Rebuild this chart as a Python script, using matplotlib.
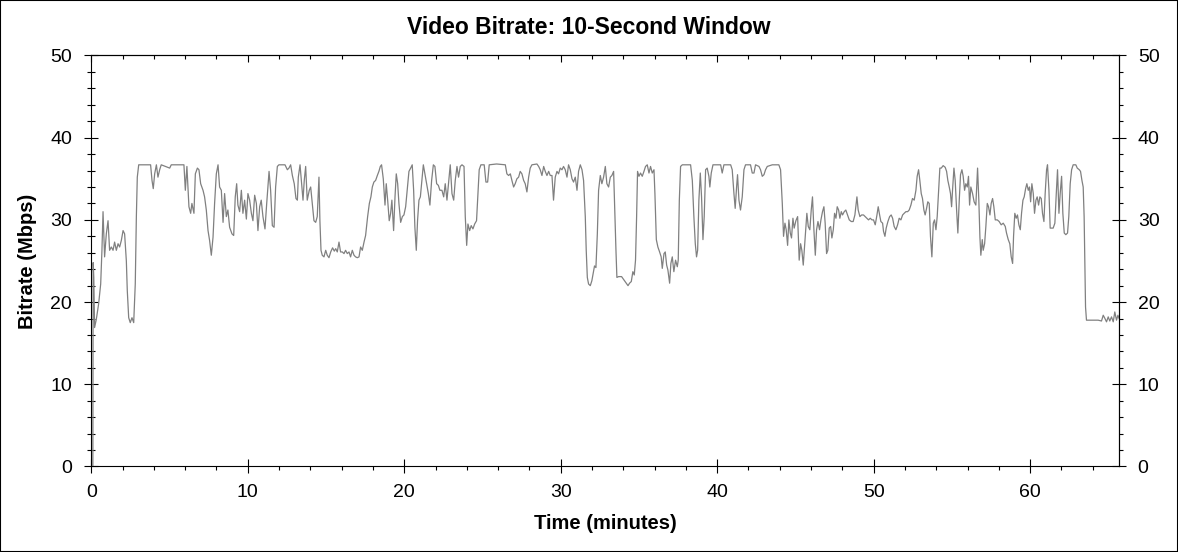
import numpy as np
import matplotlib
matplotlib.use("Agg")
import matplotlib.pyplot as plt
from matplotlib.ticker import MultipleLocator
from matplotlib.patches import Rectangle

plt.rcParams['font.family'] = ['Liberation Sans', 'DejaVu Sans']

# ---- DATA (minutes, Mbps) ----
seg_00_11 = [
    (0.10, 0.0), (0.12, 24.8), (0.16, 23.0), (0.21, 16.9), (0.32, 17.9), (0.47, 19.8),
    (0.60, 22.2), (0.68, 26.3), (0.75, 31.0), (0.85, 25.5), (0.96, 28.3), (1.07, 29.9),
    (1.17, 26.3), (1.28, 26.7), (1.39, 26.3), (1.49, 27.3), (1.60, 26.3), (1.71, 27.1),
    (1.81, 26.7), (1.92, 27.5), (2.03, 28.7), (2.13, 28.3), (2.24, 25.0), (2.30, 21.4),
    (2.39, 18.1), (2.49, 17.5), (2.60, 18.1), (2.71, 17.5), (2.81, 22.2), (2.88, 30.4),
    (2.94, 35.2), (3.03, 36.7), (3.79, 36.7), (3.88, 34.8), (3.96, 33.8), (4.05, 35.6),
    (4.16, 36.7), (4.26, 35.2), (4.37, 36.1), (4.47, 36.7), (5.01, 36.3), (5.11, 36.7),
    (5.92, 36.7), (6.01, 33.6), (6.11, 36.5), (6.24, 31.6), (6.35, 30.8), (6.43, 32.0),
    (6.56, 30.8), (6.65, 35.6), (6.78, 36.3), (6.88, 36.1), (6.99, 34.4), (7.14, 33.6),
    (7.24, 32.8), (7.35, 31.2), (7.46, 28.7), (7.56, 27.5), (7.67, 25.7), (7.78, 27.9),
    (7.88, 32.0), (7.99, 35.6), (8.10, 36.7), (8.20, 34.0), (8.31, 33.6), (8.42, 29.7),
    (8.52, 33.2), (8.63, 30.4), (8.73, 31.2), (8.84, 29.1), (8.99, 28.3), (9.10, 28.1),
    (9.20, 32.8), (9.29, 34.4), (9.37, 31.8), (9.48, 31.0), (9.59, 33.6), (9.69, 30.8),
    (9.80, 32.4), (9.91, 30.1), (10.01, 33.2), (10.12, 32.4), (10.23, 30.8), (10.33, 29.9),
    (10.44, 33.0), (10.55, 32.0), (10.65, 28.7), (10.76, 31.6), (10.86, 32.4), (10.97, 30.4),
]

seg_11_22 = [
    (11.10, 28.9), (11.21, 32.0), (11.36, 35.9), (11.46, 33.6), (11.57, 29.3), (11.68, 29.1),
    (11.78, 34.0), (11.89, 36.5), (11.99, 36.7), (12.38, 36.7), (12.53, 36.1), (12.63, 36.3),
    (12.74, 36.7), (12.85, 35.4), (12.97, 34.4), (13.08, 32.6), (13.17, 32.4), (13.23, 35.2),
    (13.34, 36.7), (13.44, 34.4), (13.53, 32.4), (13.61, 34.8), (13.70, 36.5), (13.80, 32.4),
    (13.93, 33.6), (14.02, 34.0), (14.12, 32.0), (14.23, 29.9), (14.34, 29.7), (14.44, 30.4),
    (14.55, 35.2), (14.61, 29.9), (14.68, 26.3), (14.76, 25.7), (14.87, 25.5), (14.98, 26.3),
    (15.08, 25.7), (15.19, 25.4), (15.30, 26.1), (15.42, 26.6), (15.53, 26.2), (15.62, 26.5),
    (15.72, 26.1), (15.83, 27.3), (15.93, 26.1), (16.04, 26.1), (16.15, 25.9), (16.25, 26.3),
    (16.36, 25.9), (16.47, 26.1), (16.57, 25.5), (16.68, 26.3), (16.79, 25.7), (16.89, 25.5),
    (17.00, 25.4), (17.11, 25.5), (17.21, 26.7), (17.32, 26.3), (17.43, 27.3), (17.53, 28.1),
    (17.66, 30.4), (17.77, 32.0), (17.87, 32.8), (17.96, 34.0), (18.06, 34.6), (18.17, 34.8),
    (18.28, 35.4), (18.38, 35.9), (18.47, 36.5), (18.55, 36.7), (18.66, 35.0), (18.77, 31.8),
    (18.85, 34.4), (18.94, 32.4), (19.04, 29.9), (19.13, 30.8), (19.21, 32.4), (19.32, 28.7),
    (19.41, 32.8), (19.49, 35.6), (19.58, 34.4), (19.66, 32.0), (19.77, 29.7), (19.88, 30.4),
    (19.98, 30.6), (20.09, 31.6), (20.19, 33.6), (20.30, 35.9), (20.41, 36.3), (20.51, 36.7),
    (20.60, 33.6), (20.68, 29.1), (20.77, 26.3), (20.85, 29.9), (20.94, 32.4), (21.03, 32.8),
    (21.11, 34.4), (21.22, 36.7), (21.32, 35.6), (21.43, 34.4), (21.54, 33.2), (21.64, 31.8),
    (21.75, 34.8), (21.86, 36.7), (21.96, 36.5), (22.07, 34.4), (22.18, 34.2), (22.28, 33.6),
]

seg_22_34 = [
    (22.41, 33.6), (22.52, 32.8), (22.62, 34.4), (22.73, 32.4), (22.84, 34.6), (22.94, 36.7),
    (23.05, 33.2), (23.16, 32.4), (23.26, 34.8), (23.37, 36.5), (23.47, 35.2), (23.58, 36.5),
    (23.69, 36.7), (23.82, 36.5), (23.90, 30.4), (23.99, 26.9), (24.07, 29.5), (24.18, 28.7),
    (24.28, 29.3), (24.39, 28.9), (24.50, 29.5), (24.62, 29.9), (24.71, 33.2), (24.79, 36.1),
    (24.90, 36.7), (25.11, 36.7), (25.22, 34.6), (25.33, 34.6), (25.43, 36.7), (25.90, 36.8),
    (26.46, 36.7), (26.56, 35.6), (26.67, 35.4), (26.78, 35.6), (26.88, 34.8), (26.99, 34.0),
    (27.09, 34.4), (27.20, 35.0), (27.31, 35.2), (27.41, 35.9), (27.52, 35.6), (27.63, 34.8),
    (27.73, 34.4), (27.84, 33.4), (27.95, 35.2), (28.05, 36.3), (28.16, 36.7), (28.48, 36.8),
    (28.59, 36.5), (28.69, 36.1), (28.80, 35.4), (28.91, 36.5), (29.01, 35.9), (29.12, 35.4),
    (29.23, 35.9), (29.33, 35.4), (29.44, 35.4), (29.54, 32.4), (29.65, 35.2), (29.76, 35.9),
    (29.86, 35.6), (29.97, 36.3), (30.08, 36.1), (30.18, 36.5), (30.29, 36.1), (30.40, 35.2),
    (30.50, 36.7), (30.61, 36.1), (30.72, 35.0), (30.82, 34.6), (30.93, 35.2), (31.04, 33.6),
    (31.14, 35.9), (31.25, 36.7), (31.36, 36.1), (31.46, 34.8), (31.57, 30.4), (31.63, 26.3),
    (31.70, 23.0), (31.78, 22.2), (31.89, 22.0), (31.99, 22.6), (32.10, 23.8), (32.16, 24.4),
    (32.25, 24.2), (32.34, 28.3), (32.42, 33.6), (32.53, 35.4), (32.63, 34.4), (32.74, 35.2),
    (32.85, 36.5), (32.95, 34.4), (33.06, 34.0), (33.17, 35.2), (33.27, 35.4), (33.38, 35.9),
    (33.44, 32.0), (33.53, 26.3), (33.59, 23.0), (33.70, 23.1),
]

seg_34_45 = [
    (33.89, 23.1), (34.04, 22.7), (34.19, 22.3), (34.30, 22.0), (34.40, 22.3), (34.51, 22.5),
    (34.61, 23.7), (34.70, 23.3), (34.78, 25.1), (34.85, 30.4), (34.91, 35.9), (35.00, 35.3),
    (35.10, 35.7), (35.21, 35.3), (35.32, 35.9), (35.42, 36.5), (35.53, 36.7), (35.64, 35.7),
    (35.74, 36.5), (35.85, 35.7), (35.96, 36.1), (36.02, 33.2), (36.11, 27.6), (36.21, 26.7),
    (36.32, 26.1), (36.42, 25.5), (36.49, 24.1), (36.60, 25.9), (36.68, 26.1), (36.77, 24.5),
    (36.85, 23.9), (36.96, 22.3), (37.04, 24.7), (37.13, 25.5), (37.23, 23.7), (37.34, 25.1),
    (37.45, 24.3), (37.51, 25.1), (37.58, 32.4), (37.66, 36.5), (37.77, 36.7), (38.30, 36.7),
    (38.41, 34.8), (38.51, 30.4), (38.60, 27.1), (38.68, 25.5), (38.75, 26.3), (38.83, 32.4),
    (38.92, 35.7), (39.00, 32.8), (39.09, 27.6), (39.17, 30.4), (39.26, 36.1), (39.36, 36.3),
    (39.47, 35.3), (39.53, 34.0), (39.62, 35.7), (39.73, 36.7), (40.22, 36.7), (40.32, 35.7),
    (40.43, 36.7), (40.86, 36.7), (40.96, 36.1), (41.07, 33.2), (41.15, 31.4), (41.24, 34.0),
    (41.30, 35.5), (41.39, 32.4), (41.49, 31.2), (41.60, 32.8), (41.71, 36.1), (41.81, 36.7),
    (42.13, 36.7), (42.24, 35.7), (42.35, 35.7), (42.45, 36.7), (42.67, 36.5), (42.77, 36.1),
    (42.88, 35.3), (42.99, 35.5), (43.09, 36.1), (43.20, 36.5), (43.52, 36.7), (43.73, 36.7),
    (43.94, 36.7), (44.05, 36.1), (44.16, 32.0), (44.24, 28.0), (44.33, 29.6), (44.41, 28.8),
    (44.50, 26.9), (44.58, 30.0), (44.67, 28.4), (44.75, 27.8), (44.84, 30.2), (44.92, 29.0),
]

seg_45_57 = [
    (45.03, 29.9), (45.14, 30.4), (45.24, 25.1), (45.33, 27.1), (45.41, 26.3), (45.50, 24.5),
    (45.58, 26.7), (45.67, 29.2), (45.73, 30.8), (45.82, 29.2), (45.92, 28.8), (46.01, 31.2),
    (46.09, 32.8), (46.18, 28.8), (46.27, 25.7), (46.35, 28.8), (46.44, 29.8), (46.54, 28.8),
    (46.63, 30.0), (46.73, 31.0), (46.82, 31.6), (46.90, 29.6), (46.99, 25.9), (47.07, 26.3),
    (47.16, 29.0), (47.25, 29.2), (47.33, 27.8), (47.42, 28.8), (47.50, 30.8), (47.59, 30.2),
    (47.67, 31.6), (47.76, 31.2), (47.84, 30.2), (47.93, 31.0), (48.01, 30.6), (48.12, 31.0),
    (48.22, 31.2), (48.33, 30.6), (48.44, 30.0), (48.57, 29.8), (48.69, 29.8), (48.80, 30.6),
    (48.93, 32.8), (49.01, 31.2), (49.12, 30.4), (49.23, 30.6), (49.35, 30.6), (49.46, 30.4),
    (49.57, 30.2), (49.67, 30.0), (49.78, 30.2), (49.89, 30.0), (49.99, 30.0), (50.10, 29.4),
    (50.21, 30.6), (50.29, 31.6), (50.38, 30.6), (50.46, 29.8), (50.57, 29.6), (50.63, 28.6),
    (50.72, 28.0), (50.80, 29.0), (50.91, 29.8), (51.02, 30.4), (51.12, 30.6), (51.21, 30.2),
    (51.31, 29.2), (51.42, 28.8), (51.53, 29.4), (51.63, 30.2), (51.74, 30.0), (51.85, 30.6),
    (51.95, 30.8), (52.06, 31.0), (52.17, 31.0), (52.27, 31.2), (52.38, 31.8), (52.48, 32.6),
    (52.59, 32.4), (52.70, 33.6), (52.78, 35.3), (52.87, 36.1), (52.95, 34.8), (53.04, 33.2),
    (53.12, 32.6), (53.21, 31.2), (53.29, 30.6), (53.38, 31.4), (53.46, 32.2), (53.55, 32.0),
    (53.63, 28.0), (53.72, 25.5), (53.81, 29.6), (53.89, 30.0), (53.98, 28.8), (54.06, 30.4),
    (54.15, 33.6), (54.23, 36.3), (54.32, 36.3), (54.44, 36.6), (54.57, 36.4), (54.66, 35.9),
    (54.74, 34.8), (54.83, 34.0), (54.91, 33.2), (54.98, 31.6), (55.04, 33.6), (55.13, 36.3),
    (55.21, 34.8), (55.30, 31.2), (55.38, 28.4), (55.47, 32.4), (55.55, 35.5), (55.64, 36.1),
    (55.72, 35.3), (55.81, 33.6), (55.89, 34.4), (55.98, 34.0), (56.06, 35.3), (56.13, 31.8),
    (56.21, 34.0), (56.32, 33.2), (56.42, 32.2), (56.53, 31.8),
]

seg_57_66 = [
    (56.64, 36.3), (56.72, 32.4), (56.79, 27.9), (56.85, 25.7), (56.94, 27.6), (57.00, 26.3),
    (57.09, 27.1), (57.17, 29.2), (57.26, 32.0), (57.34, 31.6), (57.43, 30.6), (57.51, 32.0),
    (57.60, 32.6), (57.68, 31.6), (57.77, 30.0), (57.90, 30.0), (58.02, 29.8), (58.15, 29.4),
    (58.28, 29.6), (58.41, 29.2), (58.49, 28.4), (58.60, 27.6), (58.70, 27.1), (58.79, 25.5),
    (58.88, 24.7), (58.94, 28.0), (59.02, 30.8), (59.11, 30.2), (59.19, 30.6), (59.28, 29.4),
    (59.37, 28.8), (59.45, 30.8), (59.54, 32.4), (59.62, 32.8), (59.71, 33.8), (59.79, 34.4),
    (59.88, 33.6), (59.96, 34.0), (60.03, 32.2), (60.11, 34.4), (60.20, 33.2), (60.28, 30.8),
    (60.37, 32.4), (60.45, 32.8), (60.54, 31.8), (60.62, 32.8), (60.71, 32.6), (60.79, 30.8),
    (60.88, 29.8), (60.96, 33.2), (61.05, 36.1), (61.11, 36.7), (61.20, 33.6), (61.28, 29.0),
    (61.37, 29.0), (61.47, 29.0), (61.58, 29.6), (61.67, 33.2), (61.75, 36.1), (61.84, 30.8),
    (61.92, 33.2), (62.01, 35.3), (62.09, 30.8), (62.18, 28.4), (62.28, 28.2), (62.39, 28.4),
    (62.47, 30.4), (62.56, 34.4), (62.65, 36.1), (62.75, 36.7), (62.92, 36.7), (63.01, 36.3),
    (63.14, 36.1), (63.22, 35.9), (63.31, 34.8), (63.39, 34.0), (63.45, 30.4), (63.50, 24.3),
    (63.54, 19.4), (63.60, 17.8), (63.82, 17.8), (64.03, 17.8), (64.35, 17.8), (64.56, 17.7),
    (64.67, 18.4), (64.78, 18.0), (64.88, 17.6), (64.99, 18.2), (65.09, 17.7), (65.20, 18.2),
    (65.31, 17.6), (65.41, 18.8), (65.52, 17.8), (65.61, 18.4), (65.69, 18.0),
]

x_ticks = [0, 10, 20, 30, 40, 50, 60]
y_ticks = [0, 10, 20, 30, 40, 50]

title = "Video Bitrate: 10-Second Window"
x_label = "Time (minutes)"
y_label = "Bitrate (Mbps)"

# ---- FIGURE ----
data = np.array(seg_00_11 + seg_11_22 + seg_22_34 + seg_34_45 + seg_45_57 + seg_57_66)
t, mbps = data[:, 0], data[:, 1]

fig = plt.figure(figsize=(11.78, 5.52), dpi=100)
ax = fig.add_axes([0.0775, 0.1549, 0.8727, 0.7446])

ax.plot(t, mbps, color='#808080', lw=0.9)

ax.set_xlim(0, 65.7)
ax.set_ylim(0, 50)
ax.set_xticks(x_ticks)
ax.set_yticks(y_ticks)
ax.xaxis.set_minor_locator(MultipleLocator(2))
ax.yaxis.set_minor_locator(MultipleLocator(2))

for s in ax.spines.values():
    s.set_linewidth(0.8)

ax.tick_params(axis='x', which='major', direction='inout', length=10.5, width=0.8,
               labelsize=14, pad=7)
ax.tick_params(axis='x', which='minor', direction='out', length=3.2, width=0.8)
ax.tick_params(axis='y', which='major', direction='inout', length=10.5, width=0.8,
               labelsize=14, pad=8.5)
ax.tick_params(axis='y', which='minor', direction='inout', length=5.5, width=0.8)

# top ticks point in, no labels
top = ax.secondary_xaxis('top')
top.set_xticks(x_ticks)
top.xaxis.set_minor_locator(MultipleLocator(2))
top.tick_params(which='major', direction='in', length=4.8, width=0.8, labeltop=False)
top.tick_params(which='minor', direction='in', length=3.0, width=0.8)

# right axis repeats the scale
right = ax.secondary_yaxis('right')
right.set_yticks(y_ticks)
right.yaxis.set_minor_locator(MultipleLocator(2))
right.tick_params(which='major', direction='inout', length=10.5, width=0.8,
                  labelsize=14, pad=8)
right.tick_params(which='minor', direction='out', length=3.2, width=0.8)

fig.text(0.5, 0.951, title, ha='center', va='center', fontsize=16.5, fontweight='bold')
fig.text(0.5137, 0.0525, x_label, ha='center', va='center', fontsize=14.5, fontweight='bold')
fig.text(0.023, 0.527, y_label, ha='center', va='center', rotation=90,
         fontsize=14.5, fontweight='bold')

fig.add_artist(Rectangle((0, 0), 1, 1, transform=fig.transFigure, fill=False,
                         ec='black', lw=1.5))

fig.savefig('out.png', dpi=100)
